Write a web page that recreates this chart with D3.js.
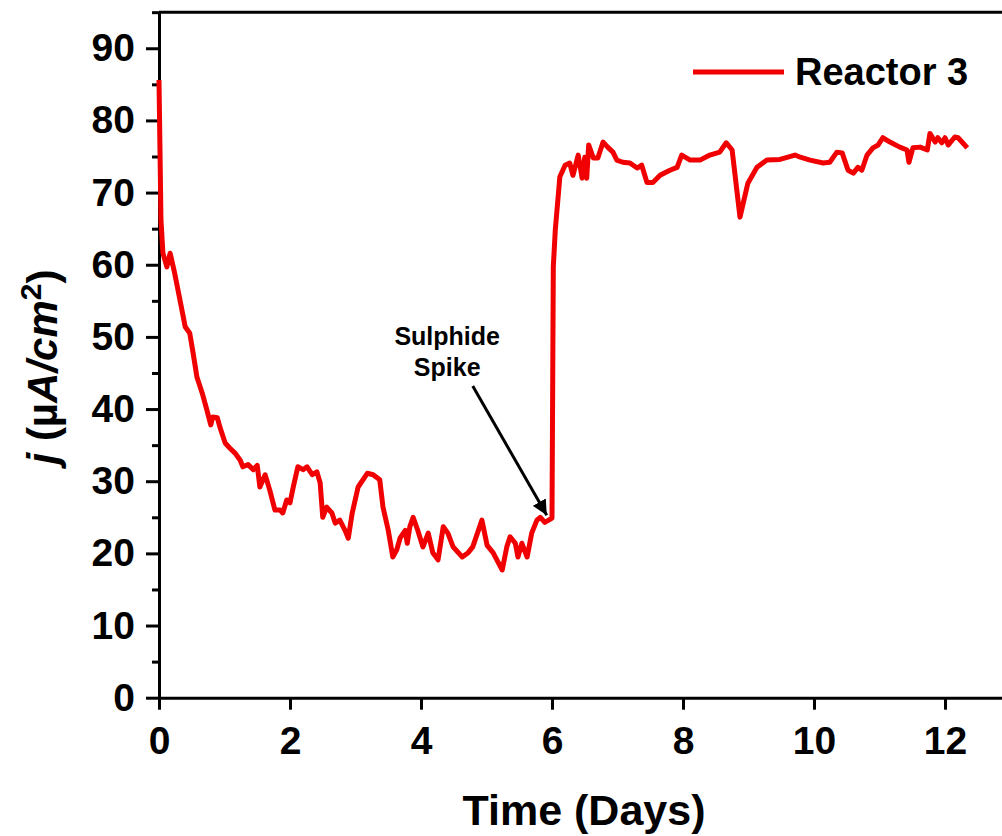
<!DOCTYPE html>
<html>
<head>
<meta charset="utf-8">
<script src="https://cdn.jsdelivr.net/npm/d3@7"></script>
<style>
  body { margin: 0; background: #fff; }
  svg { display: block; font-family: "Liberation Sans", Arial, sans-serif; }
  .axis text { font-weight: bold; font-size: 39px; fill: #000; }
  .axis path, .axis line { stroke: #000; stroke-width: 3; }
</style>
</head>
<body>
<svg id="chart" width="1002" height="836"></svg>
<script>
// time in days and current density j (uA/cm2)
const days = [0.00, 0.015, 0.03, 0.06, 0.12, 0.17, 0.24, 0.32, 0.40, 0.47, 0.52, 0.58, 0.66, 0.73, 0.79, 0.82,
  0.89, 0.93, 1.01, 1.08, 1.16, 1.24, 1.28, 1.36, 1.44, 1.50, 1.54, 1.62, 1.69, 1.77, 1.85, 1.89,
  1.95, 2.00, 2.05, 2.12, 2.20, 2.26, 2.34, 2.41, 2.46, 2.50, 2.56, 2.64, 2.69, 2.76, 2.84, 2.89,
  2.95, 3.04, 3.18, 3.27, 3.37, 3.42, 3.50, 3.57, 3.63, 3.68, 3.76, 3.79, 3.83, 3.88, 3.95, 4.03,
  4.11, 4.18, 4.26, 4.34, 4.41, 4.49, 4.63, 4.72, 4.79, 4.93, 5.01, 5.10, 5.24, 5.31, 5.36, 5.44,
  5.48, 5.54, 5.62, 5.69, 5.77, 5.82, 5.89, 6.00, 6.02, 6.05, 6.12, 6.20, 6.27, 6.32, 6.40, 6.46,
  6.50, 6.53, 6.56, 6.63, 6.70, 6.78, 6.85, 6.93, 6.99, 7.08, 7.19, 7.30, 7.37, 7.45, 7.54, 7.65,
  7.80, 7.91, 7.98, 8.11, 8.26, 8.41, 8.56, 8.66, 8.75, 8.87, 8.99, 9.13, 9.28, 9.48, 9.71, 9.79,
  9.94, 10.14, 10.24, 10.35, 10.43, 10.52, 10.60, 10.67, 10.73, 10.81, 10.90, 10.98, 11.05, 11.16, 11.31, 11.42,
  11.45, 11.51, 11.62, 11.73, 11.77, 11.85, 11.89, 11.95, 12.00, 12.05, 12.15, 12.20, 12.27, 12.34];
const current = [85.6, 75.9, 66.2, 61.6, 59.7, 61.6, 58.8, 55.1, 51.4, 50.5, 47.8, 44.4, 42.2, 39.9, 37.8, 38.9,
  38.8, 37.5, 35.3, 34.6, 33.9, 32.9, 32.0, 32.3, 31.6, 32.2, 29.2, 30.9, 28.8, 26.0, 26.0, 25.6,
  27.4, 27.0, 29.2, 32.0, 31.6, 32.0, 30.9, 31.3, 29.8, 25.0, 26.4, 25.6, 24.2, 24.6, 23.2, 22.1,
  25.6, 29.2, 31.1, 30.9, 30.2, 26.4, 23.2, 19.5, 20.5, 22.1, 23.2, 21.4, 23.7, 25.0, 23.2, 20.9,
  22.8, 20.1, 19.1, 23.7, 22.8, 20.9, 19.5, 20.1, 20.9, 24.6, 21.1, 20.1, 17.7, 20.9, 22.3, 21.4,
  19.5, 21.4, 19.5, 22.8, 24.6, 25.0, 24.3, 24.9, 59.7, 64.8, 72.2, 73.8, 74.1, 72.4, 75.2, 72.0,
  74.9, 72.0, 76.6, 74.8, 74.8, 77.0, 76.3, 75.6, 74.5, 74.2, 74.1, 73.4, 73.8, 71.4, 71.4, 72.4,
  73.1, 73.5, 75.2, 74.5, 74.5, 75.2, 75.6, 76.9, 75.9, 66.6, 71.3, 73.5, 74.5, 74.6, 75.2, 74.9,
  74.5, 74.1, 74.2, 75.6, 75.5, 73.1, 72.7, 73.5, 73.1, 75.2, 76.2, 76.6, 77.6, 77.0, 76.3, 75.9,
  74.2, 76.2, 76.3, 75.9, 78.2, 77.0, 77.6, 76.9, 77.6, 76.6, 77.7, 77.6, 76.9, 76.2];

const xTicks = [0, 2, 4, 6, 8, 10, 12];
const yTicks = [0, 10, 20, 30, 40, 50, 60, 70, 80, 90];
const yMinorTicks = [5, 15, 25, 35, 45, 55, 65, 75, 85, 95];
const seriesName = 'Reactor 3';

const svg = d3.select('#chart');
const width = +svg.attr('width');

const x = d3.scaleLinear().domain([0, 13]).range([159, 159 + 13 * 65.5]);
const y = d3.scaleLinear().domain([0, 95]).range([697.7, 697.7 - 95 * 7.216]);

// minor y ticks
svg.append('g')
    .attr('class', 'axis')
    .attr('transform', `translate(${x(0)},0)`)
    .call(d3.axisLeft(y).tickValues(yMinorTicks).tickSize(7).tickFormat(''))
    .call(g => g.select('.domain').remove());

svg.append('g')
    .attr('class', 'axis')
    .attr('transform', `translate(${x(0)},0)`)
    .call(d3.axisLeft(y).tickValues(yTicks).tickSize(13).tickSizeOuter(0).tickPadding(11));

svg.append('g')
    .attr('class', 'axis')
    .attr('transform', `translate(0,${y(0)})`)
    .call(d3.axisBottom(x).tickValues(xTicks).tickSize(12).tickSizeOuter(0).tickPadding(17));

// top frame line
svg.append('line')
    .attr('x1', x(0)).attr('x2', width)
    .attr('y1', y(95)).attr('y2', y(95))
    .attr('stroke', '#000').attr('stroke-width', 3);

const line = d3.line()
    .x((d, i) => x(days[i]))
    .y(d => y(d));

svg.append('path')
    .datum(current)
    .attr('fill', 'none')
    .attr('stroke', '#f00000')
    .attr('stroke-width', 5)
    .attr('stroke-linejoin', 'round')
    .attr('d', line);

// axis titles
svg.append('text')
    .attr('x', 584).attr('y', 825)
    .attr('text-anchor', 'middle')
    .style('font-size', '43px').style('font-weight', 'bold')
    .text('Time (Days)');

const yt = svg.append('text')
    .attr('transform', 'translate(57,367) rotate(-90)')
    .attr('text-anchor', 'middle')
    .style('font-size', '42px').style('font-weight', 'bold');
yt.append('tspan').style('font-style', 'italic').text('j');
yt.append('tspan').text(' (µ');
yt.append('tspan').style('font-style', 'italic').text('A/cm');
yt.append('tspan').attr('dy', -16).style('font-size', '30px').text('2');
yt.append('tspan').attr('dy', 16).text(')');

// legend
svg.append('line')
    .attr('x1', 693).attr('x2', 784).attr('y1', 72).attr('y2', 72)
    .attr('stroke', '#f00000').attr('stroke-width', 5);
svg.append('text')
    .attr('x', 795).attr('y', 85)
    .style('font-size', '38px').style('font-weight', 'bold')
    .text(seriesName);

// annotation
svg.append('defs').append('marker')
    .attr('id', 'arrow')
    .attr('viewBox', '0 0 10 10')
    .attr('refX', 10).attr('refY', 5)
    .attr('markerWidth', 5).attr('markerHeight', 5)
    .attr('markerUnits', 'strokeWidth')
    .attr('orient', 'auto')
    .append('path').attr('d', 'M0,0 L10,5 L0,10 Z').attr('fill', '#000');

svg.append('line')
    .attr('x1', x(4.79)).attr('y1', y(43.2))
    .attr('x2', x(5.92)).attr('y2', y(25.3))
    .attr('stroke', '#000').attr('stroke-width', 3)
    .attr('marker-end', 'url(#arrow)');

const note = svg.append('text')
    .attr('text-anchor', 'middle')
    .style('font-size', '25px').style('font-weight', 'bold');
note.append('tspan').attr('x', x(4.4)).attr('y', 345).text('Sulphide');
note.append('tspan').attr('x', x(4.4)).attr('y', 376).text('Spike');
</script>
</body>
</html>
